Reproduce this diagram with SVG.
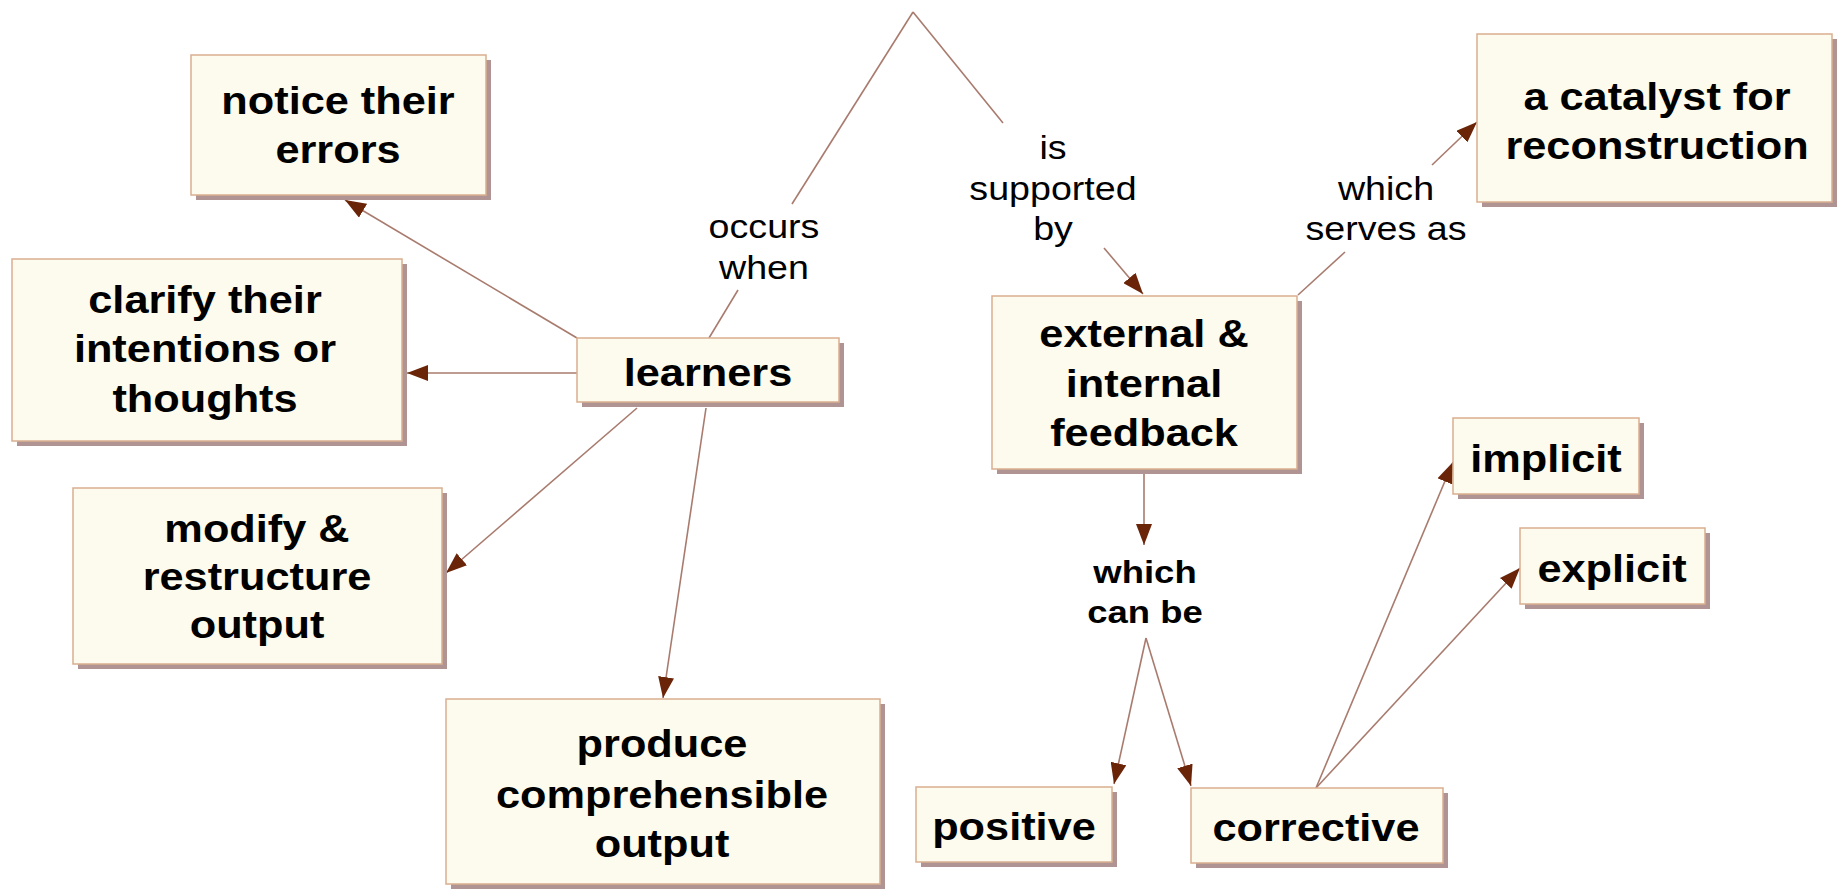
<svg xmlns="http://www.w3.org/2000/svg" width="1838" height="889" viewBox="0 0 1838 889">
<defs>
<style>
.box{fill:#FDFAEE;stroke:#D9AE8E;stroke-width:1.5}
.sh{fill:#B09494}
.nt{font-family:"Liberation Sans",Arial,sans-serif;font-weight:bold;font-size:38px;fill:#000;text-anchor:middle}
.lt{font-family:"Liberation Sans",Arial,sans-serif;font-size:33px;fill:#000;text-anchor:middle}
.lb{font-family:"Liberation Sans",Arial,sans-serif;font-weight:bold;font-size:32px;fill:#000;text-anchor:middle}
.ln{stroke:#A87B6E;stroke-width:1.6;fill:none}
</style>
<marker id="ah" markerUnits="userSpaceOnUse" markerWidth="22" markerHeight="16" refX="21" refY="8" orient="auto">
<path d="M0,0 L21,8 L0,16 Z" fill="#6A2508"/>
</marker>
</defs>
<rect width="1838" height="889" fill="#FFFFFF"/>

<g id="connectors">
<line class="ln" x1="913" y1="12" x2="792" y2="204"/>
<line class="ln" x1="738" y1="290" x2="709" y2="338"/>
<line class="ln" x1="913" y1="12" x2="1003" y2="123"/>
<line class="ln" x1="1104" y1="248" x2="1143" y2="294" marker-end="url(#ah)"/>
<line class="ln" x1="1298" y1="295" x2="1345" y2="252"/>
<line class="ln" x1="1432" y1="165" x2="1477" y2="122" marker-end="url(#ah)"/>
<line class="ln" x1="577" y1="338" x2="345" y2="200" marker-end="url(#ah)"/>
<line class="ln" x1="577" y1="373" x2="407" y2="373" marker-end="url(#ah)"/>
<line class="ln" x1="637" y1="408" x2="446" y2="573" marker-end="url(#ah)"/>
<line class="ln" x1="706" y1="408" x2="663" y2="698" marker-end="url(#ah)"/>
<line class="ln" x1="1144" y1="469" x2="1144" y2="545" marker-end="url(#ah)"/>
<line class="ln" x1="1146" y1="638" x2="1114" y2="784" marker-end="url(#ah)"/>
<line class="ln" x1="1146" y1="638" x2="1191" y2="786" marker-end="url(#ah)"/>
<line class="ln" x1="1316" y1="788" x2="1453" y2="462" marker-end="url(#ah)"/>
<line class="ln" x1="1316" y1="788" x2="1520" y2="568" marker-end="url(#ah)"/>
</g>

<g id="label-occurs-when">
<g transform="translate(764,0) scale(1.14,1)">
<text class="lt" x="0" y="238">occurs</text>
<text class="lt" x="0" y="279">when</text>
</g>
</g>
<g id="label-is-supported-by">
<g transform="translate(1053,0) scale(1.14,1)">
<text class="lt" x="0" y="159">is</text>
<text class="lt" x="0" y="200">supported</text>
<text class="lt" x="0" y="240">by</text>
</g>
</g>
<g id="label-which-serves-as">
<g transform="translate(1386,0) scale(1.14,1)">
<text class="lt" x="0" y="200">which</text>
<text class="lt" x="0" y="240">serves as</text>
</g>
</g>
<g id="label-which-can-be">
<g transform="translate(1145,0) scale(1.14,1)">
<text class="lb" x="0" y="583">which</text>
<text class="lb" x="0" y="623">can be</text>
</g>
</g>

<g id="node-notice">
<rect class="sh" x="196" y="60" width="295" height="140"/>
<rect class="box" x="191" y="55" width="295" height="140"/>
<g transform="translate(338,0) scale(1.14,1)">
<text class="nt" x="0" y="114">notice their</text>
<text class="nt" x="0" y="163">errors</text>
</g>
</g>

<g id="node-clarify">
<rect class="sh" x="17" y="264" width="390" height="182"/>
<rect class="box" x="12" y="259" width="390" height="182"/>
<g transform="translate(205,0) scale(1.14,1)">
<text class="nt" x="0" y="313">clarify their</text>
<text class="nt" x="0" y="362">intentions or</text>
<text class="nt" x="0" y="412">thoughts</text>
</g>
</g>

<g id="node-learners">
<rect class="sh" x="582" y="343" width="262" height="64"/>
<rect class="box" x="577" y="338" width="262" height="64"/>
<g transform="translate(708,0) scale(1.14,1)">
<text class="nt" x="0" y="386">learners</text>
</g>
</g>

<g id="node-modify">
<rect class="sh" x="78" y="493" width="369" height="176"/>
<rect class="box" x="73" y="488" width="369" height="176"/>
<g transform="translate(257,0) scale(1.14,1)">
<text class="nt" x="0" y="542">modify &amp;</text>
<text class="nt" x="0" y="590">restructure</text>
<text class="nt" x="0" y="638">output</text>
</g>
</g>

<g id="node-produce">
<rect class="sh" x="451" y="704" width="434" height="185"/>
<rect class="box" x="446" y="699" width="434" height="185"/>
<g transform="translate(662,0) scale(1.14,1)">
<text class="nt" x="0" y="757">produce</text>
<text class="nt" x="0" y="808">comprehensible</text>
<text class="nt" x="0" y="857">output</text>
</g>
</g>

<g id="node-feedback">
<rect class="sh" x="997" y="301" width="305" height="173"/>
<rect class="box" x="992" y="296" width="305" height="173"/>
<g transform="translate(1144,0) scale(1.14,1)">
<text class="nt" x="0" y="347">external &amp;</text>
<text class="nt" x="0" y="397">internal</text>
<text class="nt" x="0" y="446">feedback</text>
</g>
</g>

<g id="node-catalyst">
<rect class="sh" x="1482" y="39" width="355" height="168"/>
<rect class="box" x="1477" y="34" width="355" height="168"/>
<g transform="translate(1657,0) scale(1.14,1)">
<text class="nt" x="0" y="110">a catalyst for</text>
<text class="nt" x="0" y="159">reconstruction</text>
</g>
</g>

<g id="node-implicit">
<rect class="sh" x="1458" y="423" width="186" height="76"/>
<rect class="box" x="1453" y="418" width="186" height="76"/>
<g transform="translate(1546,0) scale(1.14,1)">
<text class="nt" x="0" y="472">implicit</text>
</g>
</g>

<g id="node-explicit">
<rect class="sh" x="1525" y="533" width="185" height="76"/>
<rect class="box" x="1520" y="528" width="185" height="76"/>
<g transform="translate(1612,0) scale(1.14,1)">
<text class="nt" x="0" y="582">explicit</text>
</g>
</g>

<g id="node-positive">
<rect class="sh" x="921" y="792" width="196" height="75"/>
<rect class="box" x="916" y="787" width="196" height="75"/>
<g transform="translate(1014,0) scale(1.14,1)">
<text class="nt" x="0" y="840">positive</text>
</g>
</g>

<g id="node-corrective">
<rect class="sh" x="1196" y="793" width="252" height="75"/>
<rect class="box" x="1191" y="788" width="252" height="75"/>
<g transform="translate(1316,0) scale(1.14,1)">
<text class="nt" x="0" y="841">corrective</text>
</g>
</g>
</svg>
